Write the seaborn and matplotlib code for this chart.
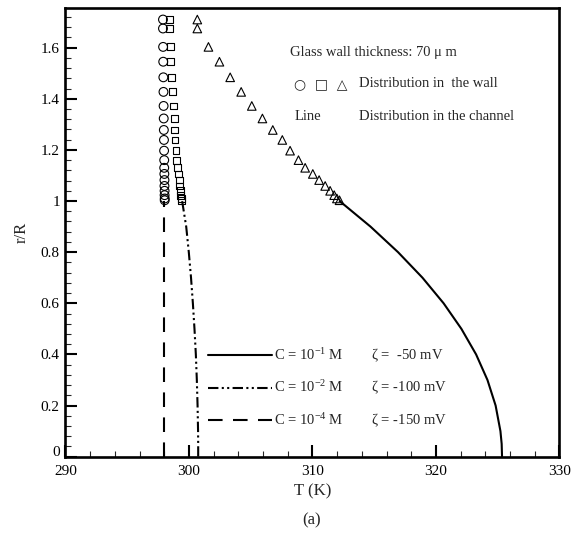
import numpy as np
import pandas as pd
import matplotlib
matplotlib.use("Agg")
import matplotlib.pyplot as plt
from matplotlib.ticker import MultipleLocator, FuncFormatter
from matplotlib.lines import Line2D
from matplotlib.transforms import ScaledTranslation
import seaborn as sns

# ---- temperature in the glass wall (r/R > 1) ----
r_wall = [1.71, 1.675, 1.603, 1.545, 1.484, 1.427, 1.372, 1.323, 1.278, 1.239,
          1.197, 1.160, 1.130, 1.106, 1.082, 1.059, 1.040, 1.023, 1.010, 1.003]
T_wall_c4 = [297.90, 297.90, 297.91, 297.92, 297.93, 297.94, 297.95, 297.96, 297.97, 297.98,
             297.99, 298.00, 298.00, 298.01, 298.02, 298.02, 298.03, 298.03, 298.04, 298.04]
T_wall_c2 = [298.42, 298.42, 298.48, 298.53, 298.62, 298.66, 298.75, 298.80, 298.83, 298.88,
             298.96, 299.02, 299.07, 299.15, 299.21, 299.23, 299.29, 299.34, 299.39, 299.42]
T_wall_c1 = [300.68, 300.68, 301.58, 302.47, 303.34, 304.23, 305.09, 305.95, 306.79, 307.56,
             308.19, 308.87, 309.41, 310.03, 310.54, 311.03, 311.43, 311.76, 311.98, 312.19]

# ---- temperature in the channel (r/R <= 1) ----
r_chan = [0.0, 0.05, 0.1, 0.2, 0.3, 0.4, 0.5, 0.6, 0.7, 0.8, 0.9, 1.0]
T_chan_c1 = [325.35, 325.32, 325.22, 324.83, 324.17, 323.25, 322.06, 320.62, 318.91, 316.93, 314.70, 312.20]
T_chan_c2 = [300.75, 300.75, 300.74, 300.70, 300.64, 300.56, 300.45, 300.32, 300.17, 299.99, 299.78, 299.45]
T_chan_c4 = [298.00] * len(r_chan)

legend_labels = [r"C = 10$^{-1}$ M        ζ =  -50 mV",
                 r"C = 10$^{-2}$ M        ζ = -100 mV",
                 r"C = 10$^{-4}$ M        ζ = -150 mV"]

sns.set_theme(style="white")
plt.rcParams["font.family"] = ["Liberation Serif", "DejaVu Sans"]
plt.rcParams["mathtext.fontset"] = "custom"
plt.rcParams["mathtext.rm"] = "Liberation Serif"
plt.rcParams["mathtext.it"] = "Liberation Serif:italic"
plt.rcParams["mathtext.bf"] = "Liberation Serif:bold"

fig = plt.figure(figsize=(5.84, 5.36), dpi=100)
ax = fig.add_axes([0.112, 0.148, 0.846, 0.837])

chan = pd.DataFrame({"r": r_chan, "c1": T_chan_c1, "c2": T_chan_c2, "c4": T_chan_c4})
wall = pd.DataFrame({"r": r_wall, "c1": T_wall_c1, "c2": T_wall_c2, "c4": T_wall_c4})

lw = 1.5
styles = {"c1": "-", "c2": (0, (5, 1.6, 1, 1.6, 1, 1.6)), "c4": (0, (7, 5))}
for key, ls in styles.items():
    sns.lineplot(data=chan, x=key, y="r", sort=False, estimator=None,
                 color="black", lw=lw, linestyle=ls, ax=ax, legend=False)

for key, mk, ms in [("c4", "o", 40), ("c2", "s", 24), ("c1", "^", 38)]:
    sns.scatterplot(data=wall, x=key, y="r", marker=mk, s=ms, facecolor="none",
                    edgecolor="black", linewidth=0.8, ax=ax, legend=False, zorder=3)

ax.set_xlim(290, 330)
ax.set_ylim(0, 1.755)
ax.xaxis.set_major_locator(MultipleLocator(10))
ax.xaxis.set_minor_locator(MultipleLocator(2))
ax.yaxis.set_major_locator(MultipleLocator(0.2))
ax.yaxis.set_minor_locator(MultipleLocator(0.04))
ax.yaxis.set_major_formatter(FuncFormatter(lambda v, p: f"{v:g}"))

ax.tick_params(which="major", direction="in", length=8.5, width=1.5, labelsize=11,
               pad=4, colors="black", bottom=True, left=True, top=False, right=False)
ax.tick_params(axis="x", which="major", pad=6)
ax.tick_params(which="minor", direction="in", length=4.3, width=0.8,
               bottom=True, left=True, top=False, right=False)
for s in ax.spines.values():
    s.set_linewidth(1.9)
    s.set_color("black")

ax.set_xlabel("T (K)", fontsize=12, labelpad=4)
ax.set_ylabel("r/R", fontsize=12, labelpad=8)
fig.text(0.534, 0.029, "(a)", fontsize=12, ha="center", va="center")

# lift the "0" on the r/R axis clear of the "290" below it
fig.canvas.draw()
for lab in ax.get_yticklabels():
    if lab.get_text() == "0":
        lab.set_transform(lab.get_transform() + ScaledTranslation(0, 4 / 72, fig.dpi_scale_trans))

# annotations in the upper right
ax.text(0.455, 0.902, "Glass wall thickness: 70 μ m", transform=ax.transAxes,
        fontsize=10.5, va="center", ha="left")
ax.text(0.463, 0.831, "○  □  △", transform=ax.transAxes, fontsize=10,
        va="center", ha="left", family=["DejaVu Sans"])
ax.text(0.594, 0.831, "Distribution in  the wall", transform=ax.transAxes,
        fontsize=10.5, va="center", ha="left")
ax.text(0.463, 0.759, "Line", transform=ax.transAxes, fontsize=10.5, va="center", ha="left")
ax.text(0.594, 0.759, "Distribution in the channel", transform=ax.transAxes,
        fontsize=10.5, va="center", ha="left")

handles = [Line2D([], [], color="black", lw=lw, linestyle=styles[k]) for k in ("c1", "c2", "c4")]
ax.legend(handles, legend_labels, loc="upper left", bbox_to_anchor=(0.289, 0.245),
          frameon=False, fontsize=10.5, handlelength=4.4, handletextpad=0.1,
          labelspacing=0.95, borderpad=0, borderaxespad=0)

fig.savefig("out.png", dpi=100)
